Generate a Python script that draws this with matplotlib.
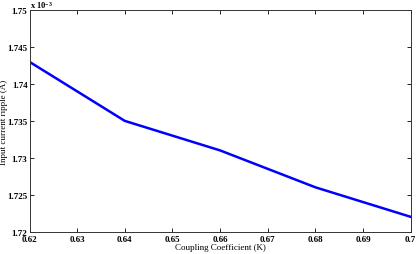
import matplotlib
matplotlib.use("Agg")
import matplotlib.pyplot as plt

# coupling coefficient vs input current ripple
k_vals = [0.62, 0.64, 0.66, 0.68, 0.70]
ripple = [1.743e-3, 1.735e-3, 1.731e-3, 1.726e-3, 1.722e-3]

x_ticks = [0.62, 0.63, 0.64, 0.65, 0.66, 0.67, 0.68, 0.69, 0.7]
x_labels = ["0.62", "0.63", "0.64", "0.65", "0.66", "0.67", "0.68", "0.69", "0.7"]
y_ticks = [1.72, 1.725, 1.73, 1.735, 1.74, 1.745, 1.75]
y_labels = ["1.72", "1.725", "1.73", "1.735", "1.74", "1.745", "1.75"]

plt.rcParams["font.family"] = ["Liberation Serif", "DejaVu Serif"]
plt.rcParams["font.weight"] = "bold"
plt.rcParams["mathtext.default"] = "regular"

fig = plt.figure(figsize=(4.16, 2.55), dpi=100)
ax = fig.add_axes([0.071, 0.088, 0.916, 0.868])

ax.plot(k_vals, [v * 1e3 for v in ripple], color="#0000ff", linewidth=1.8)

ax.set_xlim(0.62, 0.70)
ax.set_ylim(1.72, 1.75)
ax.set_xticks(x_ticks)
ax.set_xticklabels(x_labels, fontsize=6.5)
ax.set_yticks(y_ticks)
ax.set_yticklabels(y_labels, fontsize=6.5)
ax.tick_params(direction="in", top=True, right=True, length=3, width=0.6, pad=1.5)
ax.tick_params(axis="x", pad=2.5)
for s in ax.spines.values():
    s.set_linewidth(0.7)
    s.set_color("#333333")

ax.set_xlabel("Coupling Coefficient (K)", fontsize=6.5, labelpad=0)
ax.set_ylabel("Input current ripple (A)", fontsize=6.5)
ax.yaxis.set_label_coords(-0.057, 0.5)
ax.text(0.0, 1.003, r"x 10$^{-3}$", transform=ax.transAxes, fontsize=6,
        va="bottom", ha="left")

fig.savefig("out.png", dpi=100)
